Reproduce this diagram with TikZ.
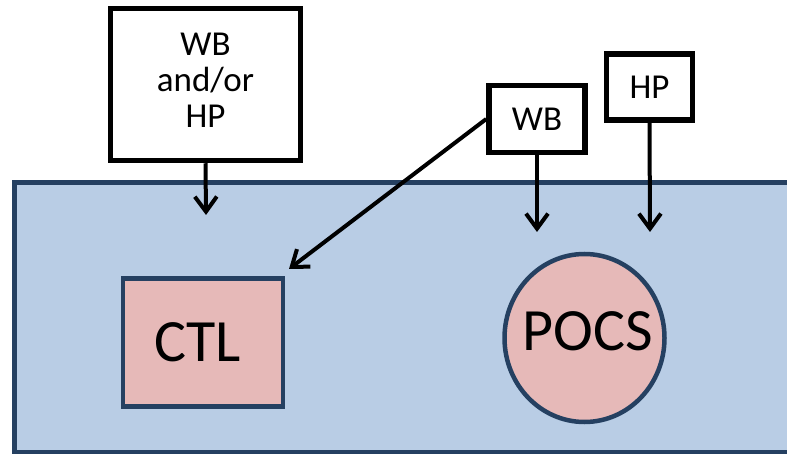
\documentclass[tikz,border=0pt]{standalone}
\usepackage{fontspec}
\setmainfont{Carlito}
\usetikzlibrary{arrows.meta,shapes.geometric}
\definecolor{bgblue}{HTML}{B9CDE5}
\definecolor{darkblue}{HTML}{254061}
\definecolor{pinkfill}{HTML}{E6B9B8}
\tikzset{
  srcbox/.style={draw=black, line width=5.5pt, fill=white, rectangle, inner sep=0pt, font=\fontsize{35}{36}\selectfont},
  cellshape/.style={draw=darkblue, line width=4.5pt, fill=pinkfill, inner sep=0pt, font=\fontsize{60}{60}\selectfont},
  arr/.style={line width=4pt, -{Straight Barb[length=15pt,width=22pt]}},
}
\begin{document}
\begin{tikzpicture}[x=1pt,y=-1pt]
\useasboundingbox (0,0) rectangle (787,454);
\clip (0,0) rectangle (787,454);
\draw[fill=bgblue, draw=darkblue, line width=4.5pt] (14.5,182.5) rectangle (820,452.5);
\node[srcbox, minimum width=190pt, minimum height=152pt] (wbhp) at (205.5,84.5) {\raisebox{-10pt}{\begin{tabular}{@{}c@{}}WB\\and/or\\HP\end{tabular}}};
\node[srcbox, minimum width=96pt, minimum height=67pt] (wb) at (537,119) {\raisebox{-4pt}{WB}};
\node[srcbox, minimum width=86pt, minimum height=66pt] (hp) at (649.5,87) {HP};
\node[cellshape, rectangle, minimum width=160pt, minimum height=128pt] (ctl) at (203,342.5) {\makebox[0pt]{\hspace{-11pt}CTL}};
\node[cellshape, ellipse, minimum width=160pt, minimum height=168pt] (pocs) at (584.5,338) {\raisebox{14pt}{\makebox[0pt]{\hspace{6pt}POCS}}};
\coordinate (t1) at (206,215);
\coordinate (t2) at (537,232);
\coordinate (t3) at (650,232);
\coordinate (t4) at (289,269);
\draw[arr] (wbhp.south) -- (t1);
\draw[arr] (wb.south) -- (t2);
\draw[arr] (hp.south) -- (t3);
\draw[arr] (wb.west) -- (t4);
\end{tikzpicture}
\end{document}
